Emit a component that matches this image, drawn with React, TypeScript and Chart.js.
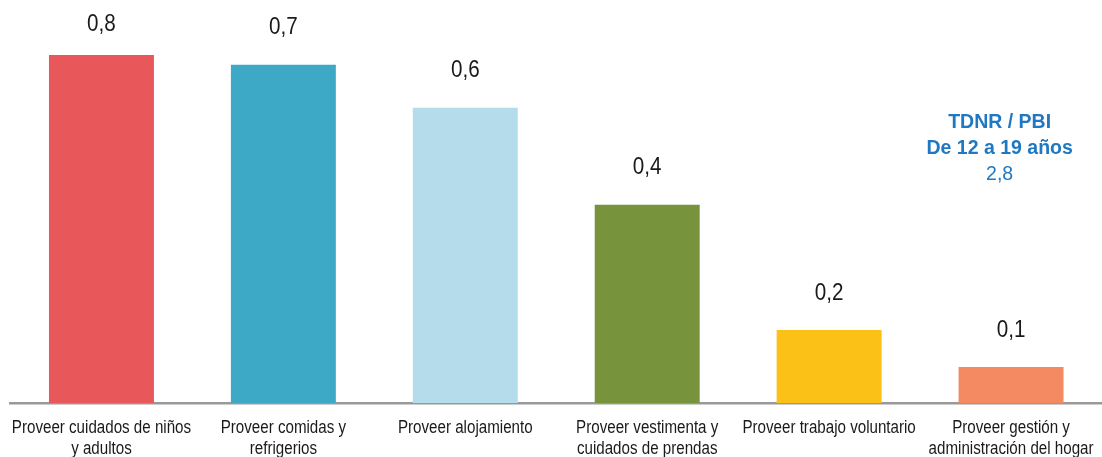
import React, { useEffect, useRef } from "react";
import { Chart, registerables } from "chart.js";

Chart.register(...registerables);

const categories: string[][] = [
  ["Proveer cuidados de niños", "y adultos"],
  ["Proveer comidas y", "refrigerios"],
  ["Proveer alojamiento"],
  ["Proveer vestimenta y", "cuidados de prendas"],
  ["Proveer trabajo voluntario"],
  ["Proveer gestión y", "administración del hogar"],
];
const values: number[] = [0.753, 0.732, 0.639, 0.429, 0.158, 0.078];
const colors: string[] = ["#E8585B", "#3EA9C6", "#B4DCEA", "#77933C", "#FBC116", "#F48A62"];
const noteLines: string[] = ["TDNR / PBI", "De 12 a 19 años", "2,8"];

const fmt = (v: number) => v.toFixed(1).replace(".", ",");
const FONT = "'Liberation Sans', Arial, sans-serif";

function drawNarrow(ctx: CanvasRenderingContext2D, text: string, x: number, y: number, sx: number) {
  ctx.save();
  ctx.translate(x, y);
  ctx.scale(sx, 1);
  ctx.fillText(text, 0, 0);
  ctx.restore();
}

const labelPlugin = {
  id: "valueLabels",
  afterDatasetsDraw(chart: any) {
    const ctx: CanvasRenderingContext2D = chart.ctx;
    const meta = chart.getDatasetMeta(0);
    ctx.save();
    ctx.fillStyle = "#1a1a1a";
    ctx.font = "24px " + FONT;
    ctx.textAlign = "center";
    ctx.textBaseline = "alphabetic";
    meta.data.forEach((bar: any, i: number) => {
      const center = Math.max(22, bar.y - 39);
      drawNarrow(ctx, fmt(values[i]), bar.x, center + 8.6, 0.86);
    });
    // category labels
    const xs = chart.scales.x;
    ctx.fillStyle = "#1a1a1a";
    ctx.font = "17.5px " + FONT;
    categories.forEach((lines, i) => {
      const x = xs.getPixelForTick(i);
      lines.forEach((ln, j) => {
        drawNarrow(ctx, ln, x, 433 + j * 21, 0.865);
      });
    });
    // annotation
    const area = chart.chartArea;
    const cx = area.left + (area.right - area.left) * (1001 - 10.5) / 1093;
    ctx.fillStyle = "#1F78C1";
    ctx.textBaseline = "middle";
    ctx.font = "bold 19.5px " + FONT;
    ctx.fillText(noteLines[0], cx, 123);
    ctx.fillText(noteLines[1], cx, 149);
    ctx.font = "19.5px " + FONT;
    ctx.fillText(noteLines[2], cx, 175);
    ctx.restore();
  },
};

export default function App() {
  const ref = useRef<HTMLCanvasElement>(null);
  useEffect(() => {
    if (!ref.current) return;
    const chart = new Chart(ref.current, {
      type: "bar",
      data: {
        labels: categories,
        datasets: [
          {
            data: values,
            backgroundColor: colors,
            barPercentage: 0.577,
            categoryPercentage: 1,
          },
        ],
      },
      options: {
        animation: false,
        responsive: false,
        maintainAspectRatio: false,
        layout: { padding: { left: 10.5, right: -1.5, top: 0, bottom: 0 } },
        plugins: { legend: { display: false }, tooltip: { enabled: false } },
        scales: {
          x: {
            grid: { display: false, drawTicks: false },
            border: { display: true, color: "#999999", width: 2.5 },
            ticks: { display: false },
            afterFit: (scale: any) => {
              scale.height = 54;
            },
          },
          y: {
            display: false,
            min: 0,
            max: 0.872,
          },
        },
      },
      plugins: [labelPlugin],
    });
    return () => chart.destroy();
  }, []);
  return (
    <div style={{ position: "fixed", left: 0, top: 0, width: 1102, height: 457, background: "#fff" }}>
      <canvas ref={ref} width={1102} height={457} style={{ display: "block" }} />
    </div>
  );
}
